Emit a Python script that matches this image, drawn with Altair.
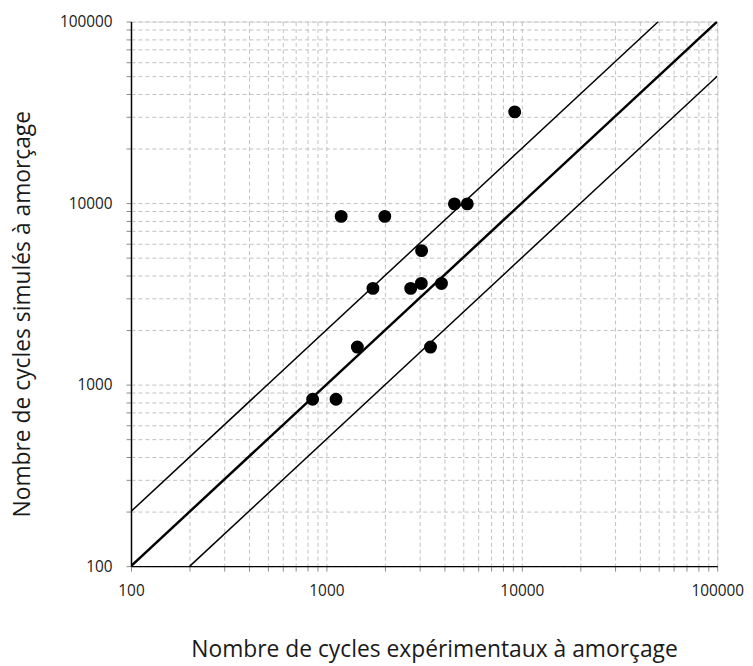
import altair as alt
import pandas as pd

# Experimental vs simulated crack initiation cycles
exp_cycles = [850, 1120, 1440, 1730, 1190, 1990, 2700, 3060, 3070, 3880, 3410, 4520, 5260, 9200]
sim_cycles = [830, 830, 1610, 3390, 8450, 8450, 3390, 3610, 5470, 3610, 1610, 9900, 9900, 31800]

# reference lines (y = x, y = 2x, y = x/2)
line_names = ["1:1", "x2", "/2", "1:1", "x2", "/2"]
line_x = [100, 100, 200, 100000, 50000, 100000]
line_y = [100, 200, 100, 100000, 100000, 50000]
line_w = [2.5, 1.5, 1.5, 2.5, 1.5, 1.5]

pts = pd.DataFrame({"x": exp_cycles, "y": sim_cycles})
lines = pd.DataFrame({"name": line_names, "x": line_x, "y": line_y, "w": line_w})

tick_vals = []
for d in [100, 1000, 10000]:
    for m in range(1, 10):
        tick_vals.append(d * m)
tick_vals.append(100000)

label_expr = ("(datum.value==100||datum.value==1000||datum.value==10000||datum.value==100000)"
              " ? format(datum.value,'d') : ''")

xscale = alt.Scale(type="log", domain=[100, 100000], nice=False)
yscale = alt.Scale(type="log", domain=[100, 100000], nice=False)

xaxis = alt.Axis(values=tick_vals, labelExpr=label_expr, grid=True,
                 gridDash=[4, 3], gridColor="#c0c0c0", gridWidth=1,
                 tickColor="#888888", tickSize=5, labelPadding=13,
                 labelFontSize=15.5, labelColor="#1a1a1a", labelFont="Open Sans",
                 title="Nombre de cycles expérimentaux à amorçage",
                 titleFont="Open Sans", titleFontSize=23, titleFontWeight="normal",
                 titleColor="#1a1a1a", titleX=305.5, titleY=91,
                 titleBaseline="alphabetic", titleAlign="center",
                 domainColor="black", domainWidth=1.5, labelOverlap=False,
                 labelFlush=False)
yaxis = alt.Axis(values=tick_vals, labelExpr=label_expr, grid=True,
                 gridDash=[4, 3], gridColor="#c0c0c0", gridWidth=1,
                 tickColor="#888888", tickSize=5, labelPadding=14,
                 labelFontSize=15.5, labelColor="#1a1a1a", labelFont="Open Sans",
                 title="Nombre de cycles simulés à amorçage",
                 titleFont="Open Sans", titleFontSize=23, titleFontWeight="normal",
                 titleColor="#1a1a1a", titleX=-102, titleY=294.5, titleAngle=-90,
                 titleBaseline="alphabetic", titleAlign="center",
                 domainColor="black", domainWidth=1.5, labelOverlap=False,
                 labelFlush=False)

base_x = alt.X("x:Q", scale=xscale, axis=xaxis)
base_y = alt.Y("y:Q", scale=yscale, axis=yaxis)

line_layer = alt.Chart(lines).mark_line(color="black", clip=True).encode(
    x=base_x, y=base_y, detail="name:N",
    strokeWidth=alt.StrokeWidth("w:Q", scale=None, legend=None),
)

pt_layer = alt.Chart(pts).mark_circle(color="black", opacity=1, size=170).encode(
    x=alt.X("x:Q", scale=xscale), y=alt.Y("y:Q", scale=yscale)
)

chart = (line_layer + pt_layer).properties(
    width=591, height=549,
    autosize=alt.AutoSizeParams(type="none"),
    padding={"left": 124, "top": 11, "right": 28, "bottom": 97},
).configure_view(stroke="black", strokeWidth=2).configure(background="white")

chart.save("out.html", embed_options={"renderer": "svg", "actions": False})
